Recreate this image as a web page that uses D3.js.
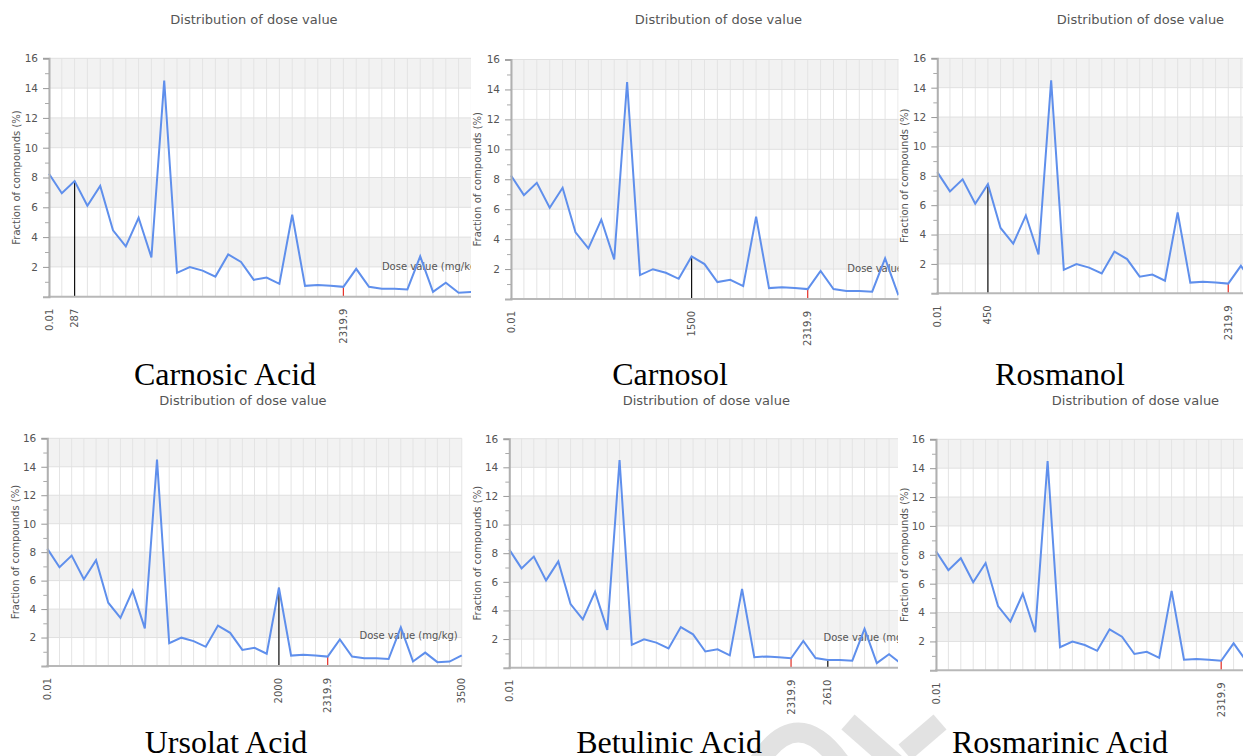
<!DOCTYPE html>
<html><head><meta charset="utf-8">
<script src="https://cdn.jsdelivr.net/npm/d3@7"></script>
<style>body{margin:0;background:#fff}svg{display:block}</style>
</head><body><svg id="c" width="1243" height="756"></svg>
<script>
// ---- data ----
const bins = [0,1,2,3,4,5,6,7,8,9,10,11,12,13,14,15,16,17,18,19,20,21,22,23,24,25,26,27,28,29,30,31,32,33,34];
const fraction = [8.25,6.94,7.76,6.1,7.43,4.45,3.38,5.3,2.64,14.5,1.6,1.99,1.75,1.35,2.84,2.33,1.13,1.28,0.86,5.5,0.73,0.79,0.73,0.66,1.87,0.67,0.54,0.54,0.49,2.71,0.32,0.94,0.27,0.31,0.75];
const yTicks = [2,4,6,8,10,12,14,16];
const yMinor = [1,3,5,7,9,11,13,15];
const compounds = ["Carnosic Acid","Carnosol","Rosmanol","Ursolat Acid","Betulinic Acid","Rosmarinic Acid"];
const markerLabels = ["287","1500","450","2000","2610",""];
const markerBins = [2,14,4,19,26,-1];
const refLabel = "2319.9", refBin = 23;
const startLabel = "0.01", startBin = 0;
const endLabel = "3500", endBin = 34;
const chartTitle = "Distribution of dose value";
const yTitle = "Fraction of compounds (%)";
const xTitle = "Dose value (mg/kg)";

// ---- layout (positions only) ----
const layout = [
  {clip:[0,471],    left:49,    top:58.3, bottom:296.7, step:12.8,  titleX:254,   titleY:24,  ylabX:17,  capX:225,  capY:385},
  {clip:[471,898.5],left:511,   top:59.5, bottom:299,   step:12.9,  titleX:718.5, titleY:24,  ylabX:478, capX:670,  capY:385},
  {clip:[899,1243], left:937.3, top:58.3, bottom:293.3, step:12.65, titleX:1140.5,titleY:24,  ylabX:905, capX:1060, capY:385},
  {clip:[0,466],    left:47.3,  top:438.3,bottom:666,   step:12.19, titleX:243,   titleY:405, ylabX:16,  capX:226,  capY:753},
  {clip:[466,898],  left:509.3, top:438.7,bottom:667.7, step:12.25, titleX:706.3, titleY:405, ylabX:478, capX:669,  capY:753},
  {clip:[899,1243], left:936,   top:439.3,bottom:670.3, step:12.4,  titleX:1135.5,titleY:405, ylabX:905, capX:1060, capY:753}
];

const svg = d3.select("#c");
const defs = svg.append("defs");
const sans = "'DejaVu Sans', sans-serif";

// faint watermark behind everything
const wm = svg.append("g").attr("fill","none").attr("stroke","#e2e2e2").attr("stroke-width",20);
wm.append("path").attr("d","M757,765 Q797,700 842,765");
wm.append("path").attr("d","M848,722 L897,765");
wm.append("path").attr("d","M940,722 L905,752");

layout.forEach((L, p) => {
  const id = "clip"+p;
  const rowTop = p < 3 ? 0 : 392;
  defs.append("clipPath").attr("id", id).append("rect")
    .attr("x", L.clip[0]).attr("y", rowTop).attr("width", L.clip[1]-L.clip[0]).attr("height", 364);
  const g = svg.append("g").attr("clip-path", `url(#${id})`);

  const x = d3.scaleLinear().domain([bins[0], bins[bins.length-1]]).range([L.left, L.left + (bins.length-1)*L.step]);
  const y = d3.scaleLinear().domain([0,16]).range([L.bottom, L.top]);
  const xEnd = x(bins[bins.length-1]);

  // bands
  g.selectAll("rect.band").data(yTicks.filter((d,i)=>i%2===0)).join("rect")
    .attr("x", L.left).attr("width", xEnd-L.left)
    .attr("y", d=>y(d+2)).attr("height", d=>y(d)-y(d+2)).attr("fill","#f2f2f2");
  // vertical grid
  g.selectAll("line.vg").data(bins).join("line")
    .attr("x1", d=>x(d)).attr("x2", d=>x(d)).attr("y1", L.top).attr("y2", L.bottom)
    .attr("stroke","#e4e4e4").attr("stroke-width",1);
  // horizontal grid
  g.selectAll("line.hg").data(yTicks).join("line")
    .attr("x1", L.left).attr("x2", xEnd).attr("y1", d=>y(d)).attr("y2", d=>y(d))
    .attr("stroke","#e0e0e0").attr("stroke-width",1);

  // x axis title inside plot
  g.append("text").attr("x", xEnd-4).attr("y", L.bottom-27).attr("text-anchor","end")
    .attr("font-family",sans).attr("font-size",10).attr("fill","#555").text(xTitle);

  // markers
  g.append("line").attr("x1", x(refBin)).attr("x2", x(refBin)).attr("y1", L.bottom).attr("y2", y(fraction[refBin]))
    .attr("stroke","#e8332a").attr("stroke-width",1.2);
  if (markerBins[p] >= 0) {
    const mb = markerBins[p];
    g.append("line").attr("x1", x(mb)).attr("x2", x(mb)).attr("y1", L.bottom).attr("y2", y(fraction[mb]))
      .attr("stroke","#111").attr("stroke-width",1.2);
  }

  // line
  g.append("path").datum(bins)
    .attr("d", d3.line().x(d=>x(d)).y(d=>y(fraction[d])))
    .attr("fill","none").attr("stroke","#5f8fec").attr("stroke-width",2).attr("stroke-linejoin","miter");

  // axes
  g.append("line").attr("x1", L.left-1).attr("x2", xEnd).attr("y1", L.bottom).attr("y2", L.bottom)
    .attr("stroke","#b8b8b8").attr("stroke-width",2);
  const ya = g.append("g").attr("transform",`translate(${L.left},0)`)
    .call(d3.axisLeft(y).tickValues(yTicks).tickSize(6).tickPadding(5));
  ya.select(".domain").attr("stroke","#b0b0b0").attr("stroke-width",2);
  ya.selectAll(".tick line").attr("stroke","#999");
  ya.selectAll(".tick text").attr("font-family",sans).attr("font-size",10.5).attr("fill","#555");
  const ym = g.append("g").attr("transform",`translate(${L.left},0)`)
    .call(d3.axisLeft(y).tickValues(yMinor).tickSize(4).tickFormat(""));
  ym.select(".domain").remove();
  ym.selectAll(".tick line").attr("stroke","#aaa");

  // x labels (rotated)
  const xl = [{b:startBin,t:startLabel},{b:refBin,t:refLabel},{b:endBin,t:endLabel}];
  if (markerBins[p] >= 0) xl.push({b:markerBins[p], t:markerLabels[p]});
  g.selectAll("text.xl").data(xl).join("text")
    .attr("transform", d=>`translate(${x(d.b)+3.5},${L.bottom+12}) rotate(-90)`)
    .attr("text-anchor","end").attr("font-family",sans).attr("font-size",10).attr("fill","#555")
    .text(d=>d.t);

  // y title
  g.append("text").attr("transform",`translate(${L.ylabX+3},${(L.top+L.bottom)/2}) rotate(-90)`)
    .attr("text-anchor","middle").attr("font-family",sans).attr("font-size",10).attr("fill","#555").text(yTitle);

  // chart title
  g.append("text").attr("x", L.titleX).attr("y", L.titleY).attr("text-anchor","middle")
    .attr("font-family",sans).attr("font-size",13).attr("fill","#555").text(chartTitle);

  // caption
  svg.append("text").attr("x", L.capX).attr("y", L.capY).attr("text-anchor","middle")
    .attr("font-family","'Liberation Serif','Times New Roman',serif").attr("font-size",32).attr("fill","#000")
    .text(compounds[p]);
});
</script>
</body></html>
